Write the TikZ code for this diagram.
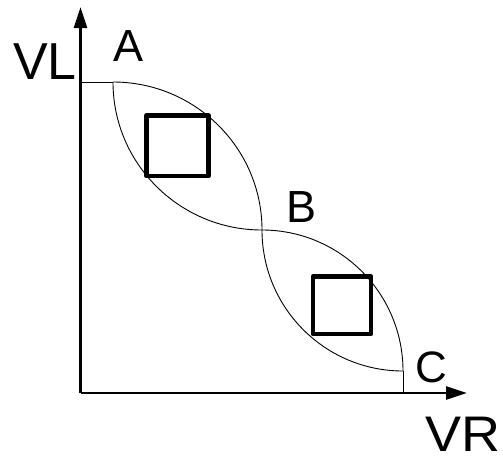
\documentclass[tikz,border=0pt]{standalone}
\usepackage{fontspec}
\setmainfont{Liberation Sans}
\usetikzlibrary{arrows.meta}
\begin{document}
\begin{tikzpicture}[x=1pt,y=-1pt,
  axis/.style={line width=2.7pt,-{Triangle[length=21pt,width=13pt]}},
  curve/.style={line width=0.9pt},
  box/.style={line width=4.5pt,line join=round},
  lbl/.style={anchor=base west,inner sep=0pt,font=\fontsize{#1}{#1}\selectfont},
]
\useasboundingbox (0,0) rectangle (503,459);
\coordinate (O) at (80.5,393);
\coordinate (ytop) at (80.5,7);
\coordinate (xend) at (467,393);
\coordinate (L) at (80.5,82);
\coordinate (P) at (113,82);
\coordinate (Q) at (262,230);
\coordinate (R) at (403,371);
\coordinate (S) at (403,393);
% axes
\draw[axis] (O) -- (ytop);
\draw[axis] (80.5,393) -- (xend);
% curves
\draw[curve] (L) -- (P);
\draw[curve] (P) .. controls (195.3,82) and (262,148.3) .. (Q);
\draw[curve] (P) .. controls (113,163.7) and (179.7,230) .. (Q);
\draw[curve] (Q) .. controls (339.9,230) and (403,293.1) .. (R);
\draw[curve] (Q) .. controls (262,307.9) and (325.1,371) .. (R);
\draw[curve] (R) -- (S);
% squares
\draw[box] (146.5,115.5) rectangle (208.5,176);
\draw[box] (313,276.5) rectangle (371,334);
% labels
\node[lbl=52] (vl) at (13,79) {VL};
\node[lbl=45] (a) at (113,61) {A};
\node[lbl=45] (b) at (286,222) {B};
\node[lbl=44] (c) at (415,382) {C};
\node[lbl=50,xscale=1.08,transform shape] (vr) at (425,451) {VR};
\end{tikzpicture}
\end{document}
